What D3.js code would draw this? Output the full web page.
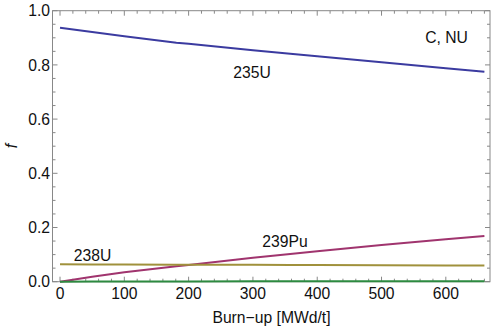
<!DOCTYPE html>
<html><head><meta charset="utf-8">
<script src="https://cdn.jsdelivr.net/npm/d3@7"></script>
<style>body{margin:0;background:#fff}svg text{font-family:"Liberation Sans",Arial,sans-serif}</style>
</head><body><svg id="c" width="492" height="332"></svg>
<script>
const burnup = [0, 50, 100, 181, 200, 300, 358, 400, 500, 600, 660];
const u235 = [0.937, 0.921, 0.906, 0.882, 0.878, 0.854, 0.841, 0.832, 0.810, 0.788, 0.775];
const pu239 = [0.0, 0.018, 0.035, 0.057, 0.062, 0.088, 0.102, 0.112, 0.135, 0.157, 0.169];
const u238 = [0.064, 0.0637, 0.0634, 0.0629, 0.0628, 0.0622, 0.0618, 0.0615, 0.0609, 0.0602, 0.0598];
const other = [0.0, 0.0003, 0.0006, 0.001, 0.001, 0.0013, 0.0015, 0.0016, 0.0018, 0.002, 0.0021];
const xTicks = [0, 100, 200, 300, 400, 500, 600];
const yTicks = [0.0, 0.2, 0.4, 0.6, 0.8, 1.0];
const colors = ["#3b3ba0", "#a0346e", "#a0913c", "#2d8a40"];

const FS = 15.7;
const svg = d3.select("#c");
const L = 52.5, R = 490, T = 10.7, B = 281.7;
const x = d3.scaleLinear().domain([-11.7, 668.7]).range([L, R]);
const y = d3.scaleLinear().domain([0, 1]).range([B, T]);

svg.append("rect").attr("x", L).attr("y", T).attr("width", R - L).attr("height", B - T)
  .attr("fill", "none").attr("stroke", "#888").attr("stroke-width", 1);

const g = svg.append("g");
d3.range(0, 661, 20).forEach(v => {
  const len = v % 100 === 0 ? 5 : 3;
  g.append("line").attr("x1", x(v)).attr("x2", x(v)).attr("y1", B).attr("y2", B - len).attr("stroke", "#888");
  g.append("line").attr("x1", x(v)).attr("x2", x(v)).attr("y1", T).attr("y2", T + len).attr("stroke", "#888");
});
d3.range(0, 1.0001, 0.05).forEach(v => {
  const major = Math.abs(v * 5 - Math.round(v * 5)) < 1e-6;
  const len = major ? 5 : 3;
  g.append("line").attr("y1", y(v)).attr("y2", y(v)).attr("x1", L).attr("x2", L + len).attr("stroke", "#888");
  g.append("line").attr("y1", y(v)).attr("y2", y(v)).attr("x1", R).attr("x2", R - len).attr("stroke", "#888");
});
xTicks.forEach(v => {
  svg.append("text").attr("x", x(v)).attr("y", B + 17.5).attr("text-anchor", "middle")
    .attr("font-size", FS).attr("fill", "#111").text(v);
});
yTicks.forEach(v => {
  svg.append("text").attr("x", L - 2.5).attr("y", y(v) + 5.6).attr("text-anchor", "end")
    .attr("font-size", FS).attr("fill", "#111").text(v.toFixed(1));
});

const line = d3.line().x(d => x(d[0])).y(d => y(d[1]));
[u235, pu239, u238, other].forEach((arr, i) => {
  svg.append("path").datum(burnup.map((b, j) => [b, arr[j]]))
    .attr("d", line).attr("fill", "none").attr("stroke", colors[i]).attr("stroke-width", 2);
});

const lab = (t, px, py) => svg.append("text").attr("x", px).attr("y", py).attr("font-size", FS)
  .attr("fill", "#111").attr("text-anchor", "middle").text(t);
lab("235U", 252, 77.5);
lab("239Pu", 285, 246.7);
lab("238U", 92.5, 260.7);
lab("C, NU", 446.5, 43.3);
svg.append("text").attr("x", 271.5).attr("y", 323).attr("font-size", FS).attr("text-anchor", "middle")
  .attr("fill", "#111").text("Burn\u2212up [MWd/t]");
svg.append("text").attr("transform", "translate(17,146) rotate(-90)").attr("font-size", FS)
  .attr("font-style", "italic").attr("text-anchor", "middle").attr("fill", "#111").text("f");
</script></body></html>
